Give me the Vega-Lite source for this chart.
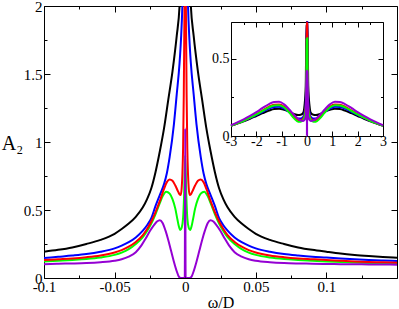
{
 "$schema": "https://vega.github.io/schema/vega-lite/v6.json",
 "width": 353, "height": 272,
 "autosize": {"type": "none"},
 "padding": {"left": 44, "top": 6, "right": 2, "bottom": 31},
 "config": {"view": {"stroke": null}, "font": "Liberation Serif",
  "axis": {"labelFont": "Liberation Serif", "titleFont": "Liberation Serif", "domainColor": "#000", "domainWidth": 1, "tickColor": "#000", "tickWidth": 1, "labelColor": "#000", "titleColor": "#000", "grid": false, "labelFontSize": 15, "titleFontWeight": "normal", "labelFlush": false, "labelOverlap": false}},
 "datasets": {
  "main": [
{"s":"k","x":-0.1,"y":0.193},{"s":"k","x":-0.09,"y":0.207},{"s":"k","x":-0.08,"y":0.225},{"s":"k","x":-0.07,"y":0.25},{"s":"k","x":-0.06,"y":0.28},{"s":"k","x":-0.05,"y":0.325},{"s":"k","x":-0.045,"y":0.36},{"s":"k","x":-0.04,"y":0.4},{"s":"k","x":-0.035,"y":0.45},{"s":"k","x":-0.03,"y":0.52},{"s":"k","x":-0.027,"y":0.58},{"s":"k","x":-0.024,"y":0.66},{"s":"k","x":-0.021,"y":0.78},{"s":"k","x":-0.018,"y":0.93},{"s":"k","x":-0.015,"y":1.1},{"s":"k","x":-0.012,"y":1.31},{"s":"k","x":-0.009,"y":1.52},{"s":"k","x":-0.006,"y":1.78},{"s":"k","x":-0.004,"y":2.0},{"s":"k","x":-0.002,"y":2.6},{"s":"k","x":0,"y":3.0},{"s":"k","x":0.002,"y":2.6},{"s":"k","x":0.004,"y":2.0},{"s":"k","x":0.006,"y":1.78},{"s":"k","x":0.009,"y":1.52},{"s":"k","x":0.012,"y":1.31},{"s":"k","x":0.015,"y":1.1},{"s":"k","x":0.018,"y":0.93},{"s":"k","x":0.021,"y":0.78},{"s":"k","x":0.024,"y":0.66},{"s":"k","x":0.027,"y":0.58},{"s":"k","x":0.03,"y":0.52},{"s":"k","x":0.035,"y":0.45},{"s":"k","x":0.04,"y":0.4},{"s":"k","x":0.045,"y":0.36},{"s":"k","x":0.05,"y":0.325},{"s":"k","x":0.06,"y":0.28},{"s":"k","x":0.07,"y":0.25},{"s":"k","x":0.08,"y":0.225},{"s":"k","x":0.09,"y":0.207},{"s":"k","x":0.1,"y":0.193},{"s":"k","x":0.11,"y":0.18},{"s":"k","x":0.12,"y":0.17},{"s":"k","x":0.13,"y":0.162},{"s":"k","x":0.14,"y":0.155},{"s":"k","x":0.15,"y":0.149},
{"s":"b","x":-0.1,"y":0.147},{"s":"b","x":-0.09,"y":0.156},{"s":"b","x":-0.08,"y":0.165},{"s":"b","x":-0.07,"y":0.176},{"s":"b","x":-0.06,"y":0.193},{"s":"b","x":-0.05,"y":0.218},{"s":"b","x":-0.045,"y":0.238},{"s":"b","x":-0.04,"y":0.263},{"s":"b","x":-0.035,"y":0.298},{"s":"b","x":-0.03,"y":0.348},{"s":"b","x":-0.027,"y":0.388},{"s":"b","x":-0.024,"y":0.44},{"s":"b","x":-0.021,"y":0.53},{"s":"b","x":-0.018,"y":0.61},{"s":"b","x":-0.015,"y":0.69},{"s":"b","x":-0.013,"y":0.77},{"s":"b","x":-0.011,"y":0.89},{"s":"b","x":-0.008,"y":1.13},{"s":"b","x":-0.006,"y":1.35},{"s":"b","x":-0.004,"y":1.58},{"s":"b","x":-0.003,"y":1.75},{"s":"b","x":-0.002,"y":2.0},{"s":"b","x":-0.001,"y":2.5},{"s":"b","x":0,"y":3.0},{"s":"b","x":0.001,"y":2.5},{"s":"b","x":0.002,"y":2.0},{"s":"b","x":0.003,"y":1.75},{"s":"b","x":0.004,"y":1.58},{"s":"b","x":0.006,"y":1.35},{"s":"b","x":0.008,"y":1.13},{"s":"b","x":0.011,"y":0.89},{"s":"b","x":0.013,"y":0.77},{"s":"b","x":0.015,"y":0.69},{"s":"b","x":0.018,"y":0.61},{"s":"b","x":0.021,"y":0.53},{"s":"b","x":0.024,"y":0.44},{"s":"b","x":0.027,"y":0.388},{"s":"b","x":0.03,"y":0.348},{"s":"b","x":0.035,"y":0.298},{"s":"b","x":0.04,"y":0.263},{"s":"b","x":0.045,"y":0.238},{"s":"b","x":0.05,"y":0.218},{"s":"b","x":0.06,"y":0.193},{"s":"b","x":0.07,"y":0.176},{"s":"b","x":0.08,"y":0.165},{"s":"b","x":0.09,"y":0.156},{"s":"b","x":0.1,"y":0.15},{"s":"b","x":0.11,"y":0.143},{"s":"b","x":0.12,"y":0.137},{"s":"b","x":0.13,"y":0.132},{"s":"b","x":0.14,"y":0.128},{"s":"b","x":0.15,"y":0.125},
{"s":"g","x":-0.1,"y":0.122},{"s":"g","x":-0.09,"y":0.127},{"s":"g","x":-0.08,"y":0.133},{"s":"g","x":-0.07,"y":0.14},{"s":"g","x":-0.06,"y":0.151},{"s":"g","x":-0.05,"y":0.17},{"s":"g","x":-0.045,"y":0.187},{"s":"g","x":-0.04,"y":0.212},{"s":"g","x":-0.035,"y":0.25},{"s":"g","x":-0.03,"y":0.3},{"s":"g","x":-0.027,"y":0.345},{"s":"g","x":-0.024,"y":0.4},{"s":"g","x":-0.021,"y":0.47},{"s":"g","x":-0.018,"y":0.55},{"s":"g","x":-0.016,"y":0.6},{"s":"g","x":-0.0135,"y":0.635},{"s":"g","x":-0.011,"y":0.62},{"s":"g","x":-0.009,"y":0.58},{"s":"g","x":-0.007,"y":0.51},{"s":"g","x":-0.0055,"y":0.43},{"s":"g","x":-0.0045,"y":0.38},{"s":"g","x":-0.0035,"y":0.353},{"s":"g","x":-0.0025,"y":0.37},{"s":"g","x":-0.0015,"y":0.44},{"s":"g","x":-0.0008,"y":0.6},{"s":"g","x":0,"y":0.9},{"s":"g","x":0.0008,"y":0.6},{"s":"g","x":0.0015,"y":0.44},{"s":"g","x":0.0025,"y":0.37},{"s":"g","x":0.0035,"y":0.353},{"s":"g","x":0.0045,"y":0.38},{"s":"g","x":0.0055,"y":0.43},{"s":"g","x":0.007,"y":0.51},{"s":"g","x":0.009,"y":0.58},{"s":"g","x":0.011,"y":0.62},{"s":"g","x":0.0135,"y":0.635},{"s":"g","x":0.016,"y":0.6},{"s":"g","x":0.018,"y":0.55},{"s":"g","x":0.021,"y":0.47},{"s":"g","x":0.024,"y":0.4},{"s":"g","x":0.027,"y":0.345},{"s":"g","x":0.03,"y":0.3},{"s":"g","x":0.035,"y":0.25},{"s":"g","x":0.04,"y":0.212},{"s":"g","x":0.045,"y":0.187},{"s":"g","x":0.05,"y":0.17},{"s":"g","x":0.06,"y":0.151},{"s":"g","x":0.07,"y":0.14},{"s":"g","x":0.08,"y":0.133},{"s":"g","x":0.09,"y":0.127},{"s":"g","x":0.1,"y":0.122},{"s":"g","x":0.11,"y":0.118},{"s":"g","x":0.12,"y":0.114},{"s":"g","x":0.13,"y":0.11},{"s":"g","x":0.14,"y":0.107},{"s":"g","x":0.15,"y":0.105},
{"s":"r","x":-0.1,"y":0.132},{"s":"r","x":-0.09,"y":0.138},{"s":"r","x":-0.08,"y":0.144},{"s":"r","x":-0.07,"y":0.153},{"s":"r","x":-0.06,"y":0.166},{"s":"r","x":-0.05,"y":0.188},{"s":"r","x":-0.045,"y":0.205},{"s":"r","x":-0.04,"y":0.23},{"s":"r","x":-0.035,"y":0.265},{"s":"r","x":-0.03,"y":0.315},{"s":"r","x":-0.027,"y":0.36},{"s":"r","x":-0.024,"y":0.415},{"s":"r","x":-0.021,"y":0.485},{"s":"r","x":-0.018,"y":0.565},{"s":"r","x":-0.015,"y":0.655},{"s":"r","x":-0.013,"y":0.705},{"s":"r","x":-0.011,"y":0.725},{"s":"r","x":-0.009,"y":0.715},{"s":"r","x":-0.007,"y":0.68},{"s":"r","x":-0.005,"y":0.635},{"s":"r","x":-0.004,"y":0.615},{"s":"r","x":-0.0032,"y":0.61},{"s":"r","x":-0.0025,"y":0.66},{"s":"r","x":-0.002,"y":0.76},{"s":"r","x":-0.0015,"y":0.95},{"s":"r","x":-0.001,"y":1.35},{"s":"r","x":-0.0005,"y":2.0},{"s":"r","x":0,"y":3.0},{"s":"r","x":0.0005,"y":2.0},{"s":"r","x":0.001,"y":1.35},{"s":"r","x":0.0015,"y":0.95},{"s":"r","x":0.002,"y":0.76},{"s":"r","x":0.0025,"y":0.66},{"s":"r","x":0.0032,"y":0.61},{"s":"r","x":0.004,"y":0.615},{"s":"r","x":0.005,"y":0.635},{"s":"r","x":0.007,"y":0.68},{"s":"r","x":0.009,"y":0.715},{"s":"r","x":0.011,"y":0.725},{"s":"r","x":0.013,"y":0.705},{"s":"r","x":0.015,"y":0.655},{"s":"r","x":0.018,"y":0.565},{"s":"r","x":0.021,"y":0.485},{"s":"r","x":0.024,"y":0.415},{"s":"r","x":0.027,"y":0.36},{"s":"r","x":0.03,"y":0.315},{"s":"r","x":0.035,"y":0.265},{"s":"r","x":0.04,"y":0.23},{"s":"r","x":0.045,"y":0.205},{"s":"r","x":0.05,"y":0.188},{"s":"r","x":0.06,"y":0.166},{"s":"r","x":0.07,"y":0.153},{"s":"r","x":0.08,"y":0.144},{"s":"r","x":0.09,"y":0.138},{"s":"r","x":0.1,"y":0.132},{"s":"r","x":0.11,"y":0.127},{"s":"r","x":0.12,"y":0.122},{"s":"r","x":0.13,"y":0.118},{"s":"r","x":0.14,"y":0.115},{"s":"r","x":0.15,"y":0.112},
{"s":"v","x":-0.1,"y":0.102},{"s":"v","x":-0.09,"y":0.105},{"s":"v","x":-0.08,"y":0.107},{"s":"v","x":-0.07,"y":0.11},{"s":"v","x":-0.06,"y":0.116},{"s":"v","x":-0.05,"y":0.127},{"s":"v","x":-0.045,"y":0.138},{"s":"v","x":-0.04,"y":0.157},{"s":"v","x":-0.035,"y":0.19},{"s":"v","x":-0.031,"y":0.24},{"s":"v","x":-0.028,"y":0.29},{"s":"v","x":-0.025,"y":0.345},{"s":"v","x":-0.022,"y":0.39},{"s":"v","x":-0.02,"y":0.415},{"s":"v","x":-0.018,"y":0.425},{"s":"v","x":-0.016,"y":0.405},{"s":"v","x":-0.014,"y":0.35},{"s":"v","x":-0.012,"y":0.28},{"s":"v","x":-0.01,"y":0.2},{"s":"v","x":-0.008,"y":0.12},{"s":"v","x":-0.006,"y":0.05},{"s":"v","x":-0.0045,"y":0.01},{"s":"v","x":-0.003,"y":0},{"s":"v","x":-0.0003,"y":0},{"s":"v","x":0,"y":1.1},{"s":"v","x":0.0003,"y":0},{"s":"v","x":0.003,"y":0},{"s":"v","x":0.0045,"y":0.01},{"s":"v","x":0.006,"y":0.05},{"s":"v","x":0.008,"y":0.12},{"s":"v","x":0.01,"y":0.2},{"s":"v","x":0.012,"y":0.28},{"s":"v","x":0.014,"y":0.35},{"s":"v","x":0.016,"y":0.405},{"s":"v","x":0.018,"y":0.425},{"s":"v","x":0.02,"y":0.415},{"s":"v","x":0.022,"y":0.39},{"s":"v","x":0.025,"y":0.345},{"s":"v","x":0.028,"y":0.29},{"s":"v","x":0.031,"y":0.24},{"s":"v","x":0.035,"y":0.19},{"s":"v","x":0.04,"y":0.157},{"s":"v","x":0.045,"y":0.138},{"s":"v","x":0.05,"y":0.127},{"s":"v","x":0.06,"y":0.116},{"s":"v","x":0.07,"y":0.11},{"s":"v","x":0.08,"y":0.107},{"s":"v","x":0.09,"y":0.105},{"s":"v","x":0.1,"y":0.103},{"s":"v","x":0.11,"y":0.102},{"s":"v","x":0.12,"y":0.101},{"s":"v","x":0.13,"y":0.1},{"s":"v","x":0.14,"y":0.099},{"s":"v","x":0.15,"y":0.098}
  ],
  "inset": [
{"s":"k","x":-3,"y":0.066},{"s":"k","x":-2.75,"y":0.08},{"s":"k","x":-2.5,"y":0.095},{"s":"k","x":-2.25,"y":0.112},{"s":"k","x":-2,"y":0.13},{"s":"k","x":-1.75,"y":0.148},{"s":"k","x":-1.5,"y":0.165},{"s":"k","x":-1.3,"y":0.175},{"s":"k","x":-1.1,"y":0.177},{"s":"k","x":-0.9,"y":0.17},{"s":"k","x":-0.7,"y":0.158},{"s":"k","x":-0.5,"y":0.142},{"s":"k","x":-0.35,"y":0.136},{"s":"k","x":-0.25,"y":0.138},{"s":"k","x":-0.15,"y":0.15},{"s":"k","x":-0.1,"y":0.195},{"s":"k","x":-0.05,"y":0.325},{"s":"k","x":-0.02,"y":0.8},{"s":"k","x":0,"y":3},{"s":"k","x":0.02,"y":0.8},{"s":"k","x":0.05,"y":0.325},{"s":"k","x":0.1,"y":0.195},{"s":"k","x":0.15,"y":0.15},{"s":"k","x":0.25,"y":0.138},{"s":"k","x":0.35,"y":0.136},{"s":"k","x":0.5,"y":0.142},{"s":"k","x":0.7,"y":0.158},{"s":"k","x":0.9,"y":0.17},{"s":"k","x":1.1,"y":0.177},{"s":"k","x":1.3,"y":0.175},{"s":"k","x":1.5,"y":0.165},{"s":"k","x":1.75,"y":0.148},{"s":"k","x":2,"y":0.13},{"s":"k","x":2.25,"y":0.112},{"s":"k","x":2.5,"y":0.095},{"s":"k","x":2.75,"y":0.08},{"s":"k","x":3,"y":0.066},
{"s":"b","x":-3,"y":0.067},{"s":"b","x":-2.75,"y":0.082},{"s":"b","x":-2.5,"y":0.098},{"s":"b","x":-2.25,"y":0.116},{"s":"b","x":-2,"y":0.136},{"s":"b","x":-1.75,"y":0.157},{"s":"b","x":-1.5,"y":0.178},{"s":"b","x":-1.3,"y":0.188},{"s":"b","x":-1.1,"y":0.19},{"s":"b","x":-0.9,"y":0.178},{"s":"b","x":-0.7,"y":0.155},{"s":"b","x":-0.5,"y":0.127},{"s":"b","x":-0.35,"y":0.113},{"s":"b","x":-0.25,"y":0.113},{"s":"b","x":-0.15,"y":0.125},{"s":"b","x":-0.1,"y":0.15},{"s":"b","x":-0.05,"y":0.22},{"s":"b","x":-0.02,"y":0.56},{"s":"b","x":-0.01,"y":0.97},{"s":"b","x":0,"y":3},{"s":"b","x":0.01,"y":0.97},{"s":"b","x":0.02,"y":0.56},{"s":"b","x":0.05,"y":0.22},{"s":"b","x":0.1,"y":0.15},{"s":"b","x":0.15,"y":0.125},{"s":"b","x":0.25,"y":0.113},{"s":"b","x":0.35,"y":0.113},{"s":"b","x":0.5,"y":0.127},{"s":"b","x":0.7,"y":0.155},{"s":"b","x":0.9,"y":0.178},{"s":"b","x":1.1,"y":0.19},{"s":"b","x":1.3,"y":0.188},{"s":"b","x":1.5,"y":0.178},{"s":"b","x":1.75,"y":0.157},{"s":"b","x":2,"y":0.136},{"s":"b","x":2.25,"y":0.116},{"s":"b","x":2.5,"y":0.098},{"s":"b","x":2.75,"y":0.082},{"s":"b","x":3,"y":0.067},
{"s":"r","x":-3,"y":0.067},{"s":"r","x":-2.75,"y":0.083},{"s":"r","x":-2.5,"y":0.1},{"s":"r","x":-2.25,"y":0.12},{"s":"r","x":-2,"y":0.142},{"s":"r","x":-1.75,"y":0.166},{"s":"r","x":-1.5,"y":0.19},{"s":"r","x":-1.3,"y":0.203},{"s":"r","x":-1.1,"y":0.205},{"s":"r","x":-0.9,"y":0.19},{"s":"r","x":-0.7,"y":0.158},{"s":"r","x":-0.5,"y":0.122},{"s":"r","x":-0.35,"y":0.104},{"s":"r","x":-0.25,"y":0.103},{"s":"r","x":-0.15,"y":0.112},{"s":"r","x":-0.1,"y":0.132},{"s":"r","x":-0.05,"y":0.188},{"s":"r","x":-0.02,"y":0.49},{"s":"r","x":-0.011,"y":0.725},{"s":"r","x":-0.003,"y":0.61},{"s":"r","x":0,"y":3},{"s":"r","x":0.003,"y":0.61},{"s":"r","x":0.011,"y":0.725},{"s":"r","x":0.02,"y":0.49},{"s":"r","x":0.05,"y":0.188},{"s":"r","x":0.1,"y":0.132},{"s":"r","x":0.15,"y":0.112},{"s":"r","x":0.25,"y":0.103},{"s":"r","x":0.35,"y":0.104},{"s":"r","x":0.5,"y":0.122},{"s":"r","x":0.7,"y":0.158},{"s":"r","x":0.9,"y":0.19},{"s":"r","x":1.1,"y":0.205},{"s":"r","x":1.3,"y":0.203},{"s":"r","x":1.5,"y":0.19},{"s":"r","x":1.75,"y":0.166},{"s":"r","x":2,"y":0.142},{"s":"r","x":2.25,"y":0.12},{"s":"r","x":2.5,"y":0.1},{"s":"r","x":2.75,"y":0.083},{"s":"r","x":3,"y":0.067},
{"s":"g","x":-3,"y":0.066},{"s":"g","x":-2.75,"y":0.082},{"s":"g","x":-2.5,"y":0.099},{"s":"g","x":-2.25,"y":0.119},{"s":"g","x":-2,"y":0.14},{"s":"g","x":-1.75,"y":0.163},{"s":"g","x":-1.5,"y":0.186},{"s":"g","x":-1.3,"y":0.198},{"s":"g","x":-1.1,"y":0.2},{"s":"g","x":-0.9,"y":0.185},{"s":"g","x":-0.7,"y":0.152},{"s":"g","x":-0.5,"y":0.113},{"s":"g","x":-0.35,"y":0.092},{"s":"g","x":-0.25,"y":0.092},{"s":"g","x":-0.15,"y":0.105},{"s":"g","x":-0.1,"y":0.122},{"s":"g","x":-0.05,"y":0.17},{"s":"g","x":-0.02,"y":0.47},{"s":"g","x":-0.0135,"y":0.635},{"s":"g","x":-0.0035,"y":0.353},{"s":"g","x":0,"y":0.6},{"s":"g","x":0.0035,"y":0.353},{"s":"g","x":0.0135,"y":0.635},{"s":"g","x":0.02,"y":0.47},{"s":"g","x":0.05,"y":0.17},{"s":"g","x":0.1,"y":0.122},{"s":"g","x":0.15,"y":0.105},{"s":"g","x":0.25,"y":0.092},{"s":"g","x":0.35,"y":0.092},{"s":"g","x":0.5,"y":0.113},{"s":"g","x":0.7,"y":0.152},{"s":"g","x":0.9,"y":0.185},{"s":"g","x":1.1,"y":0.2},{"s":"g","x":1.3,"y":0.198},{"s":"g","x":1.5,"y":0.186},{"s":"g","x":1.75,"y":0.163},{"s":"g","x":2,"y":0.14},{"s":"g","x":2.25,"y":0.119},{"s":"g","x":2.5,"y":0.099},{"s":"g","x":2.75,"y":0.082},{"s":"g","x":3,"y":0.066},
{"s":"v","x":-3,"y":0.07},{"s":"v","x":-2.75,"y":0.088},{"s":"v","x":-2.5,"y":0.108},{"s":"v","x":-2.25,"y":0.13},{"s":"v","x":-2,"y":0.155},{"s":"v","x":-1.75,"y":0.182},{"s":"v","x":-1.5,"y":0.207},{"s":"v","x":-1.3,"y":0.22},{"s":"v","x":-1.1,"y":0.222},{"s":"v","x":-0.9,"y":0.205},{"s":"v","x":-0.7,"y":0.172},{"s":"v","x":-0.5,"y":0.135},{"s":"v","x":-0.35,"y":0.112},{"s":"v","x":-0.25,"y":0.1},{"s":"v","x":-0.15,"y":0.098},{"s":"v","x":-0.1,"y":0.104},{"s":"v","x":-0.05,"y":0.127},{"s":"v","x":-0.018,"y":0.425},{"s":"v","x":-0.004,"y":0},{"s":"v","x":0,"y":0.42},{"s":"v","x":0.004,"y":0},{"s":"v","x":0.018,"y":0.425},{"s":"v","x":0.05,"y":0.127},{"s":"v","x":0.1,"y":0.104},{"s":"v","x":0.15,"y":0.098},{"s":"v","x":0.25,"y":0.1},{"s":"v","x":0.35,"y":0.112},{"s":"v","x":0.5,"y":0.135},{"s":"v","x":0.7,"y":0.172},{"s":"v","x":0.9,"y":0.205},{"s":"v","x":1.1,"y":0.222},{"s":"v","x":1.3,"y":0.22},{"s":"v","x":1.5,"y":0.207},{"s":"v","x":1.75,"y":0.182},{"s":"v","x":2,"y":0.155},{"s":"v","x":2.25,"y":0.13},{"s":"v","x":2.5,"y":0.108},{"s":"v","x":2.75,"y":0.088},{"s":"v","x":3,"y":0.07}
  ]
 },
 "layer": [
  {"data": {"name": "main"},
   "mark": {"type": "line", "clip": true, "strokeWidth": 2, "interpolate": "monotone"},
   "encoding": {
    "x": {"field": "x", "type": "quantitative", "scale": {"domain": [-0.1, 0.15], "nice": false, "zero": false},
     "axis": {"orient": "bottom", "values": [-0.1, -0.075, -0.05, -0.025, 0, 0.025, 0.05, 0.075, 0.1, 0.125],
      "labelExpr": "abs(datum.value*20 - round(datum.value*20)) < 0.001 ? toString(datum.value) : ''",
      "tickSize": {"condition": {"test": "abs(datum.value*20 - round(datum.value*20)) < 0.001", "value": -6}, "value": -3},
      "labelPadding": 7, "title": "ω/D", "titleFontSize": 16, "titleY": 29, "titleBaseline": "alphabetic"}},
    "y": {"field": "y", "type": "quantitative", "scale": {"domain": [0, 2], "nice": false, "zero": false},
     "axis": {"orient": "left", "values": [0, 0.25, 0.5, 0.75, 1, 1.25, 1.5, 1.75, 2],
      "labelExpr": "abs(datum.value*2 - round(datum.value*2)) < 0.001 ? toString(datum.value) : ''",
      "tickSize": {"condition": {"test": "abs(datum.value*2 - round(datum.value*2)) < 0.001", "value": -6}, "value": -3},
      "labelPadding": 8, "title": "A₂", "titleFontSize": 20, "titleAngle": 0, "titleX": -32, "titleY": 137, "titleAlign": "center", "titleBaseline": "middle"}},
    "color": {"field": "s", "type": "nominal", "scale": {"domain": ["k", "b", "g", "r", "v"], "range": ["#000000", "#0000ff", "#00ff00", "#ff0000", "#9400d3"]}, "legend": null}
   }},
  {"data": {"name": "main"},
   "mark": {"type": "line", "opacity": 0},
   "encoding": {
    "x": {"field": "x", "type": "quantitative", "scale": {"domain": [-0.1, 0.15], "nice": false, "zero": false},
     "axis": {"orient": "top", "values": [-0.1, -0.075, -0.05, -0.025, 0, 0.025, 0.05, 0.075, 0.1, 0.125], "labels": false, "title": null,
      "tickSize": {"condition": {"test": "abs(datum.value*20 - round(datum.value*20)) < 0.001", "value": -6}, "value": -3}}},
    "y": {"field": "y", "type": "quantitative", "scale": {"domain": [0, 2], "nice": false, "zero": false},
     "axis": {"orient": "right", "values": [0, 0.25, 0.5, 0.75, 1, 1.25, 1.5, 1.75, 2], "labels": false, "title": null,
      "tickSize": {"condition": {"test": "abs(datum.value*2 - round(datum.value*2)) < 0.001", "value": -6}, "value": -3}}}
   }},
  {"data": {"name": "inset"},
   "mark": {"type": "line", "strokeWidth": 2, "interpolate": "monotone"},
   "encoding": {
    "x": {"field": "x", "type": "quantitative", "scale": {"domain": [-3, 3], "range": [187, 339], "nice": false, "zero": false},
     "axis": {"orient": "bottom", "offset": -142, "values": [-3, -2.5, -2, -1.5, -1, -0.5, 0, 0.5, 1, 1.5, 2, 2.5, 3],
      "labelExpr": "abs(datum.value - round(datum.value)) < 0.001 ? toString(datum.value) : ''",
      "tickSize": {"condition": {"test": "abs(datum.value - round(datum.value)) < 0.001", "value": -5}, "value": -2.5},
      "labelPadding": 3, "labelFontSize": 14, "title": null}},
    "y": {"field": "y", "type": "quantitative", "scale": {"domain": [0, 0.74], "range": [130, 16], "clamp": true, "nice": false, "zero": false},
     "axis": {"orient": "left", "offset": -187, "values": [0, 0.25, 0.5],
      "labelExpr": "abs(datum.value*2 - round(datum.value*2)) < 0.001 ? toString(datum.value) : ''",
      "tickSize": {"condition": {"test": "abs(datum.value*2 - round(datum.value*2)) < 0.001", "value": -5}, "value": -2.5},
      "labelPadding": 7, "labelFontSize": 14, "title": null}},
    "color": {"field": "s", "type": "nominal", "scale": {"domain": ["k", "b", "g", "r", "v"], "range": ["#000000", "#0000ff", "#00ff00", "#ff0000", "#9400d3"]}, "legend": null}
   }},
  {"data": {"name": "inset"},
   "mark": {"type": "line", "opacity": 0},
   "encoding": {
    "x": {"field": "x", "type": "quantitative", "scale": {"domain": [-3, 3], "range": [187, 339], "nice": false, "zero": false},
     "axis": {"orient": "top", "offset": -16, "values": [-3, -2.5, -2, -1.5, -1, -0.5, 0, 0.5, 1, 1.5, 2, 2.5, 3], "labels": false, "title": null,
      "tickSize": {"condition": {"test": "abs(datum.value - round(datum.value)) < 0.001", "value": -5}, "value": -2.5}}},
    "y": {"field": "y", "type": "quantitative", "scale": {"domain": [0, 0.74], "range": [130, 16], "clamp": true, "nice": false, "zero": false},
     "axis": {"orient": "right", "offset": -14, "values": [0, 0.25, 0.5], "labels": false, "title": null,
      "tickSize": {"condition": {"test": "abs(datum.value*2 - round(datum.value*2)) < 0.001", "value": -5}, "value": -2.5}}}
   }}
 ],
 "resolve": {"scale": {"x": "independent", "y": "independent"}, "axis": {"x": "independent", "y": "independent"}}
}
